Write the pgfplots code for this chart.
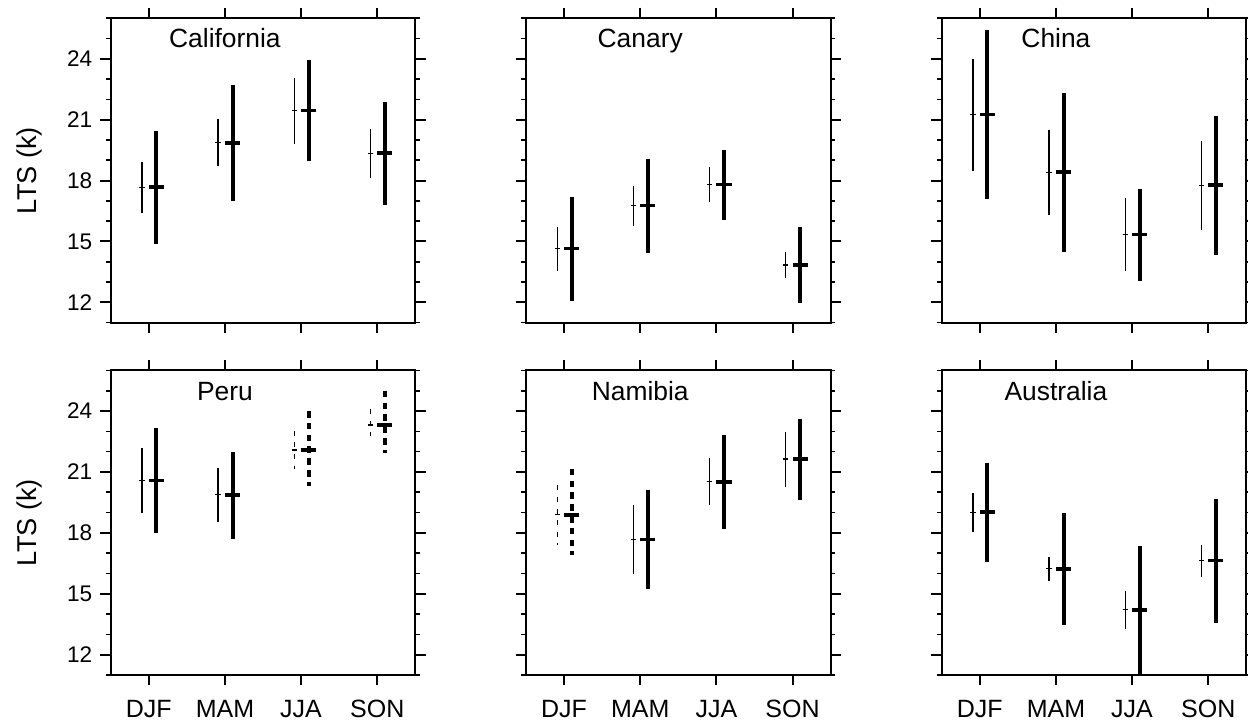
\documentclass[border=0pt]{standalone}
\usepackage{fontspec}
\setmainfont{Liberation Sans}
\usepackage{pgfplots}
\pgfplotsset{compat=1.18}

\pgfplotsset{
  panel/.style={
    scale only axis, width=152.3pt, height=152.3pt,
    anchor=south west,
    xmin=0.5, xmax=4.5, ymin=11, ymax=26,
    xtick={1,2,3,4},
    ytick={12,15,18,21,24}, minor ytick={11,...,26},
    tick align=outside, tick pos=both,
    major tick length=5.2pt, minor tick length=2.4pt,
    every tick/.style={black, line width=1pt},
    every minor tick/.style={black, line width=0.8pt},
    axis line style={line width=1pt},
    /pgf/number format/assume math mode=true,
    yticklabel style={font=\fontsize{11.3}{13}\selectfont, xshift=-0.5pt},
    xticklabel style={font=\fontsize{12.5}{14}\selectfont, yshift=-4pt},
    clip=true,
  },
  lnthinsolid/.style={black, line width=0.6pt},
  lnthindashed/.style={black, line width=0.6pt, dash pattern=on 2.5pt off 3.3pt},
  lnthicksolid/.style={black, line width=2pt},
  lnthickdashed/.style={black, line width=2pt, dash pattern=on 3.3pt off 2.6pt},
  thinM/.style={black, only marks, mark=-, mark size=1.3pt, mark options={solid, line width=0.6pt}},
  thickM/.style={black, only marks, mark=-, mark size=3.8pt, mark options={solid, line width=1.8pt}},
}
\tikzset{ptitle/.style={anchor=base, font=\fontsize{13.2}{15}\selectfont}}

% #1 x thin, #2 x thick, #3 mean, #4 thin lo, #5 thin hi, #6 thick lo, #7 thick hi, #8 solid/dashed
\newcommand{\season}[8]{%
  \addplot[lnthin#8] coordinates {(#1,#5) (#1,#4)};
  \addplot[lnthick#8] coordinates {(#2,#7) (#2,#6)};
  \addplot[thinM] coordinates {(#1,#3)};
  \addplot[thickM] coordinates {(#2,#3)};
}

\begin{document}
\begin{tikzpicture}
% ---------------- top row ----------------
\begin{axis}[panel, at={(55.35pt,200.65pt)}, xticklabels={}]
\season{0.91}{1.10}{17.67}{16.40}{18.92}{14.89}{20.43}{solid}
\season{1.91}{2.10}{19.86}{18.74}{21.01}{17.00}{22.73}{solid}
\season{2.91}{3.10}{21.45}{19.82}{23.05}{18.94}{23.93}{solid}
\season{3.91}{4.10}{19.35}{18.13}{20.56}{16.80}{21.88}{solid}
\node[ptitle] at (axis cs:2,24.54) {California};
\end{axis}

\begin{axis}[panel, at={(263.0pt,200.65pt)}, xticklabels={}, yticklabels={}]
\season{0.91}{1.10}{14.66}{13.53}{15.73}{12.07}{17.21}{solid}
\season{1.91}{2.10}{16.77}{15.78}{17.74}{14.43}{19.08}{solid}
\season{2.91}{3.10}{17.80}{16.93}{18.67}{16.08}{19.50}{solid}
\season{3.91}{4.10}{13.84}{13.18}{14.48}{11.95}{15.70}{solid}
\node[ptitle] at (axis cs:2,24.54) {Canary};
\end{axis}

\begin{axis}[panel, at={(470.85pt,200.65pt)}, xticklabels={}, yticklabels={}]
\season{0.91}{1.10}{21.25}{18.48}{24.00}{17.10}{25.40}{solid}
\season{1.91}{2.10}{18.41}{16.31}{20.51}{14.50}{22.31}{solid}
\season{2.91}{3.10}{15.35}{13.53}{17.14}{13.07}{17.60}{solid}
\season{3.91}{4.10}{17.77}{15.58}{19.94}{14.32}{21.19}{solid}
\node[ptitle] at (axis cs:2,24.54) {China};
\end{axis}

% ---------------- bottom row ----------------
\begin{axis}[panel, at={(55.35pt,24.5pt)}, xticklabels={DJF,MAM,JJA,SON}]
\season{0.91}{1.10}{20.57}{18.97}{22.16}{17.98}{23.15}{solid}
\season{1.91}{2.10}{19.87}{18.52}{21.18}{17.72}{21.98}{solid}
\season{2.91}{3.10}{22.08}{21.13}{23.03}{20.33}{24.00}{dashed}
\season{3.91}{4.10}{23.31}{22.77}{24.10}{21.92}{25.00}{dashed}
\node[ptitle] at (axis cs:2,24.54) {Peru};
\end{axis}

\begin{axis}[panel, at={(263.0pt,24.5pt)}, xticklabels={DJF,MAM,JJA,SON}, yticklabels={}]
\season{0.91}{1.10}{18.89}{17.39}{20.34}{16.89}{21.15}{dashed}
\season{1.91}{2.10}{17.67}{15.98}{19.36}{15.23}{20.11}{solid}
\season{2.91}{3.10}{20.51}{19.36}{21.67}{18.20}{22.82}{solid}
\season{3.91}{4.10}{21.64}{20.28}{22.98}{19.62}{23.62}{solid}
\node[ptitle] at (axis cs:2,24.54) {Namibia};
\end{axis}

\begin{axis}[panel, at={(470.85pt,24.5pt)}, xticklabels={DJF,MAM,JJA,SON}, yticklabels={}]
\season{0.91}{1.10}{19.02}{18.05}{19.97}{16.57}{21.46}{solid}
\season{1.91}{2.10}{16.23}{15.64}{16.82}{13.48}{18.97}{solid}
\season{2.91}{3.10}{14.21}{13.26}{15.16}{10.80}{17.33}{solid}
\season{3.91}{4.10}{16.64}{15.85}{17.39}{13.56}{19.67}{solid}
\node[ptitle] at (axis cs:2,24.54) {Australia};
\end{axis}

\node[rotate=90, anchor=base, font=\fontsize{13.6}{15}\selectfont] at (18pt,276.75pt) {LTS (k)};
\node[rotate=90, anchor=base, font=\fontsize{13.6}{15}\selectfont] at (18pt,100.75pt) {LTS (k)};

\pgfresetboundingbox
\useasboundingbox (0pt,0pt) rectangle (624pt,362pt);
\end{tikzpicture}
\end{document}
